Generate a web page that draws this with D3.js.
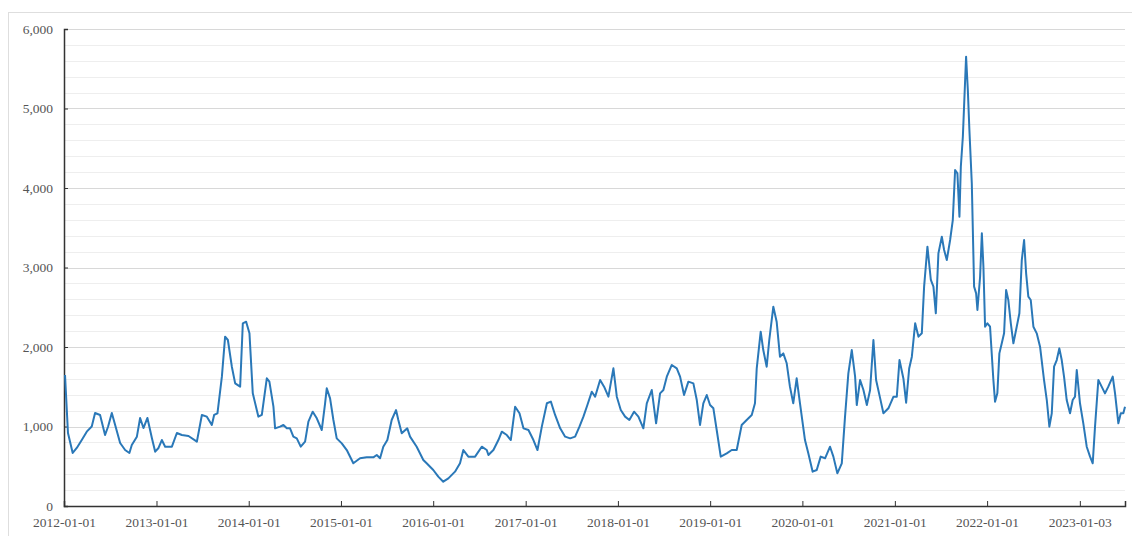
<!DOCTYPE html>
<html>
<head>
<meta charset="utf-8">
<script src="https://cdn.jsdelivr.net/npm/d3@7"></script>
<style>
  html, body { margin: 0; padding: 0; background: #fff; }
  svg { display: block; }
  .lbl { font-family: "Liberation Serif", "Times New Roman", serif; font-size: 13.5px; fill: #555; }
</style>
</head>
<body>
<svg id="chart" width="1132" height="536"></svg>
<script>
// ---- data (decimal year, index value) ----
const yearFrac = [
2012.011,2012.043,2012.094,2012.138,2012.192,2012.246,2012.300,2012.336,2012.390,2012.444,
2012.477,2012.517,2012.553,2012.607,2012.661,2012.707,2012.733,2012.788,2012.823,2012.859,
2012.902,2012.950,2012.986,2013.022,2013.058,2013.094,2013.167,2013.221,2013.275,2013.347,
2013.438,2013.492,2013.546,2013.600,2013.625,2013.661,2013.709,2013.744,2013.774,2013.817,
2013.853,2013.907,2013.936,2013.972,2014.008,2014.044,2014.105,2014.142,2014.196,2014.224,
2014.268,2014.286,2014.340,2014.376,2014.413,2014.448,2014.484,2014.521,2014.564,2014.611,
2014.647,2014.694,2014.738,2014.792,2014.828,2014.846,2014.882,2014.918,2014.954,2015.009,
2015.063,2015.134,2015.207,2015.279,2015.351,2015.388,2015.424,2015.459,2015.503,2015.550,
2015.597,2015.622,2015.659,2015.719,2015.749,2015.821,2015.893,2015.929,2016.001,2016.055,
2016.109,2016.164,2016.236,2016.290,2016.326,2016.380,2016.453,2016.525,2016.579,2016.597,
2016.651,2016.705,2016.742,2016.796,2016.839,2016.886,2016.933,2016.976,2017.030,2017.084,
2017.128,2017.175,2017.230,2017.273,2017.319,2017.374,2017.428,2017.482,2017.536,2017.583,
2017.626,2017.669,2017.717,2017.753,2017.807,2017.850,2017.897,2017.951,2017.988,2018.031,
2018.078,2018.124,2018.175,2018.222,2018.276,2018.313,2018.367,2018.414,2018.457,2018.493,
2018.530,2018.584,2018.638,2018.674,2018.717,2018.764,2018.818,2018.855,2018.890,2018.926,
2018.963,2018.999,2019.035,2019.071,2019.115,2019.180,2019.234,2019.288,2019.342,2019.396,
2019.451,2019.486,2019.505,2019.548,2019.576,2019.613,2019.641,2019.685,2019.721,2019.757,
2019.793,2019.830,2019.865,2019.901,2019.938,2019.974,2020.028,2020.064,2020.111,2020.155,
2020.198,2020.245,2020.299,2020.335,2020.378,2020.426,2020.461,2020.497,2020.534,2020.570,
2020.588,2020.624,2020.660,2020.697,2020.732,2020.768,2020.797,2020.841,2020.876,2020.930,
2020.985,2021.021,2021.050,2021.093,2021.122,2021.155,2021.184,2021.220,2021.256,2021.292,
2021.317,2021.353,2021.390,2021.418,2021.444,2021.472,2021.509,2021.534,2021.563,2021.599,
2021.628,2021.653,2021.678,2021.700,2021.715,2021.737,2021.772,2021.791,2021.808,2021.834,
2021.859,2021.881,2021.895,2021.924,2021.943,2021.960,2021.978,2022.003,2022.032,2022.068,
2022.086,2022.111,2022.133,2022.159,2022.184,2022.206,2022.230,2022.257,2022.285,2022.321,
2022.350,2022.376,2022.401,2022.423,2022.447,2022.473,2022.502,2022.538,2022.574,2022.617,
2022.647,2022.675,2022.701,2022.726,2022.755,2022.783,2022.809,2022.834,2022.863,2022.899,
2022.928,2022.953,2022.972,2023.007,2023.043,2023.080,2023.116,2023.145,2023.170,2023.206,
2023.242,2023.278,2023.314,2023.362,2023.387,2023.423,2023.449,2023.477,2023.495
];
const values = [
1648,918,667,730,830,935,1000,1170,1145,893,
1000,1170,1019,792,704,667,767,872,1107,981,
1107,855,683,730,830,746,746,918,893,880,
809,1145,1124,1019,1145,1166,1627,2130,2088,1752,
1543,1501,2298,2318,2172,1417,1124,1145,1606,1564,
1249,977,998,1019,977,977,872,851,746,809,
1061,1186,1103,956,1292,1480,1354,1082,851,788,
704,537,600,612,612,641,600,746,830,1082,
1207,1082,914,977,872,746,579,537,453,369,
306,348,432,537,704,621,621,746,704,641,
704,830,935,893,830,1249,1166,977,956,830,
704,998,1292,1313,1145,977,872,851,872,998,
1124,1270,1438,1375,1585,1501,1375,1732,1375,1207,
1124,1082,1186,1124,977,1292,1459,1040,1417,1459,
1627,1774,1732,1627,1396,1564,1543,1333,1019,1292,
1396,1270,1229,956,621,663,704,704,1019,1082,
1145,1292,1732,2193,1962,1752,2088,2507,2318,1878,
1920,1795,1501,1292,1606,1292,830,663,432,453,
621,600,746,621,411,537,1124,1669,1962,1627,
1270,1585,1459,1270,1459,2088,1585,1354,1166,1229,
1375,1375,1836,1600,1300,1730,1878,2298,2130,2172,
2759,3262,2843,2759,2424,3178,3387,3220,3094,3346,
3597,4226,4184,3639,4268,4645,5652,5233,4730,4059,
2759,2675,2465,2884,3430,3010,2255,2298,2255,1585,
1312,1417,1920,2046,2172,2717,2591,2298,2046,2255,
2424,3094,3346,2927,2633,2591,2255,2172,2004,1585,
1333,998,1166,1752,1836,1983,1836,1627,1333,1166,
1333,1375,1711,1292,1040,746,621,537,998,1585,
1501,1417,1501,1627,1417,1040,1166,1166,1249
];
const xTickLabels = ["2012-01-01","2013-01-01","2014-01-01","2015-01-01","2016-01-01","2017-01-01",
                     "2018-01-01","2019-01-01","2020-01-01","2021-01-01","2022-01-01","2023-01-03"];
const yTickValues = [0, 1000, 2000, 3000, 4000, 5000, 6000];
const yGridStep = 200;
const yMax = 6000;
const xEndYear = 2023.495;

(function () {
  function fracToDate(fy) {
    const yr = Math.floor(fy);
    const s = new Date(yr, 0, 1), e = new Date(yr + 1, 0, 1);
    return new Date(+s + (fy - yr) * (e - s));
  }
  const parse = d3.timeParse("%Y-%m-%d");
  const data = yearFrac.map((t, i) => ({ date: fracToDate(t), value: values[i] }));

  const svg = d3.select("#chart");
  const mLeft = 64, mRight = 1125, mTop = 29, mBottom = 506;

  const x = d3.scaleTime().domain([new Date(2012, 0, 1), fracToDate(xEndYear)]).range([mLeft, mRight]);
  const y = d3.scaleLinear().domain([0, yMax]).range([mBottom, mTop]);

  // outer frame
  svg.append("rect").attr("x", 8.5).attr("y", 12.5).attr("width", 1140).attr("height", 540)
    .attr("fill", "none").attr("stroke", "#dedede").attr("stroke-width", 1);

  // gridlines
  const gridVals = d3.range(yGridStep, yMax + 1, yGridStep);
  svg.append("g").selectAll("line").data(gridVals).join("line")
    .attr("x1", mLeft).attr("x2", mRight)
    .attr("y1", d => Math.round(y(d)) + 0.5).attr("y2", d => Math.round(y(d)) + 0.5)
    .attr("stroke", d => d % 1000 === 0 ? "#d8d8d8" : "#eeeeee")
    .attr("stroke-width", 1);

  // y axis
  const yAxis = d3.axisLeft(y).tickValues(yTickValues).tickSize(-4).tickPadding(11)
    .tickFormat(d3.format(","));
  const gy = svg.append("g").attr("transform", `translate(${mLeft},0)`).call(yAxis);
  gy.select(".domain").attr("stroke", "#333").attr("stroke-width", 1.5);
  gy.selectAll(".tick line").attr("stroke", "#333");
  gy.selectAll(".tick text").attr("class", "lbl").attr("fill", null);

  // x axis
  const xAxis = d3.axisBottom(x).tickValues(xTickLabels.map(parse)).tickSize(-5).tickPadding(11)
    .tickFormat((d, i) => xTickLabels[i]);
  const gx = svg.append("g").attr("transform", `translate(0,${mBottom})`).call(xAxis);
  gx.select(".domain").attr("stroke", "#333").attr("stroke-width", 1.5);
  gx.selectAll(".tick line").attr("stroke", "#333");
  gx.selectAll(".tick text").attr("class", "lbl").attr("fill", null);

  // line
  const line = d3.line().x(d => x(d.date)).y(d => y(d.value));
  svg.append("path").datum(data)
    .attr("fill", "none").attr("stroke", "#2a78b8").attr("stroke-width", 2)
    .attr("stroke-linejoin", "round").attr("d", line);
})();
</script>
</body>
</html>
